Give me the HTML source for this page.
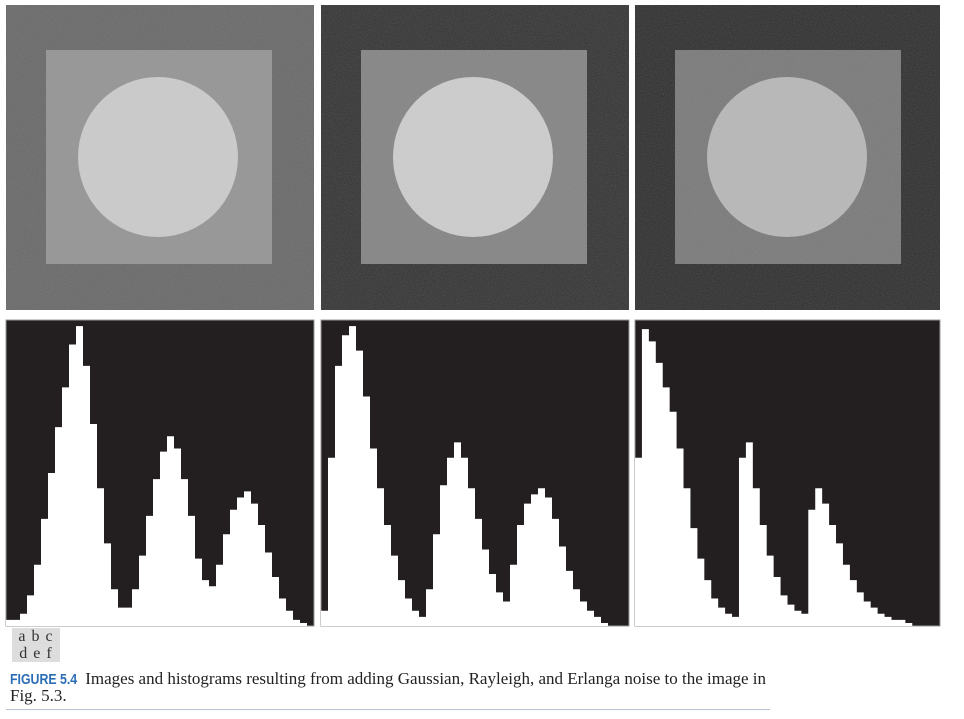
<!DOCTYPE html>
<html><head><meta charset="utf-8"><style>
body{margin:0;background:#fff;width:964px;height:719px;overflow:hidden;position:relative;font-family:"Liberation Serif",serif}
svg{position:absolute;left:0;top:0}
.lab{position:absolute;left:12px;top:628px;width:48px;background:#ddd;font-size:16px;line-height:17px;color:#333;text-align:center;letter-spacing:1px}
.cap{position:absolute;left:10px;top:671px;width:800px;font-size:17px;line-height:16px;color:#222;white-space:nowrap}
.fig{font-family:"Liberation Sans",sans-serif;font-weight:bold;color:#2a6db5;font-size:14.5px;display:inline-block;transform:scaleX(0.85);transform-origin:left;margin-right:-8px}
.rule{position:absolute;left:6px;top:709px;width:764px;height:1px;background:#b8c4d4}
</style></head><body>
<svg width="964" height="719">
<defs>
<filter id="noise" x="0" y="0" width="100%" height="100%">
<feTurbulence type="fractalNoise" baseFrequency="0.9" numOctaves="1" seed="3"/>
<feColorMatrix values="0 0 0 0 0.5  0 0 0 0 0.5  0 0 0 0 0.5  0 0 0 0.25 0"/>
<feComposite in2="SourceGraphic" operator="in"/>
</filter>
</defs>
<g id="images"></g>
<g id="hists"></g>
</svg>
<div class="lab">a b c<br>d e f</div>
<div class="cap"><span class="fig">FIGURE 5.4</span> Images and histograms resulting from adding Gaussian, Rayleigh, and Erlanga noise to the image in<br>Fig. 5.3.</div>
<div class="rule"></div>
<script>
const panelNames = ['gaussian','rayleigh','erlang'];
const outerGray = ['#666666','#303030','#2b2b2b'];
const squareGray = ['#939393','#828282','#777777'];
const circleGray = ['#cccccc','#cecece','#b8b8b8'];
const histGaussian = [0.02,0.02,0.04,0.1,0.2,0.35,0.5,0.65,0.78,0.92,0.98,0.85,0.66,0.45,0.27,0.12,0.06,0.06,0.12,0.23,0.36,0.48,0.57,0.62,0.58,0.48,0.36,0.22,0.15,0.13,0.2,0.3,0.38,0.42,0.44,0.4,0.33,0.24,0.16,0.09,0.05,0.02,0.01,0];
const histRayleigh = [0.05,0.55,0.85,0.95,0.98,0.9,0.75,0.58,0.45,0.33,0.23,0.15,0.09,0.05,0.03,0.12,0.3,0.46,0.55,0.6,0.55,0.45,0.35,0.25,0.17,0.11,0.08,0.2,0.33,0.4,0.43,0.45,0.42,0.35,0.26,0.18,0.12,0.08,0.05,0.03,0.01,0,0,0];
const histErlang = [0.55,0.97,0.93,0.86,0.78,0.7,0.58,0.45,0.32,0.22,0.15,0.09,0.06,0.04,0.03,0.55,0.6,0.45,0.33,0.23,0.16,0.1,0.07,0.05,0.04,0.38,0.45,0.4,0.33,0.27,0.2,0.15,0.11,0.08,0.06,0.04,0.03,0.02,0.02,0.01,0,0,0,0];
const hists = [histGaussian, histRayleigh, histErlang];
const NS='http://www.w3.org/2000/svg';
const panelX=[6,321,635], panelW=[308,308,305];
const imgTop=5, imgH=305, histTop=320, histH=306;
const imgG=document.getElementById('images'), histG=document.getElementById('hists');
function mk(t,a){const e=document.createElementNS(NS,t);for(const k in a)e.setAttribute(k,a[k]);return e;}
for(let p=0;p<3;p++){
  const x0=panelX[p], w=panelW[p];
  const g=mk('g',{});
  
  
  const r=mk('rect',{x:x0,y:imgTop,width:w,height:imgH,fill:outerGray[p]});
  
  
  g.appendChild(r);
  const sq=mk('rect',{x:x0+40,y:50,width:226,height:214,fill:squareGray[p]});
  
  
  g.appendChild(sq);
  const c=mk('circle',{cx:x0+152,cy:157,r:80,fill:circleGray[p]});
  
  
  g.appendChild(c);
  const n=mk('rect',{x:x0,y:imgTop,width:w,height:imgH,fill:'#fff',filter:'url(#noise)'});
  
  
  g.appendChild(n);
  imgG.appendChild(g);
  const hg=mk('g',{});
  
  
  const bg=mk('rect',{x:x0,y:histTop,width:w,height:histH,fill:'#231f20',stroke:'#999','stroke-width':1});
  
  
  hg.appendChild(bg);
  const data=hists[p], bw=w/data.length;
  const yS=v=>histTop+histH-v*histH;
  let d='M'+x0+','+(histTop+histH);
  data.forEach((v,i)=>{d+=' L'+(x0+i*bw)+','+yS(v)+' L'+(x0+(i+1)*bw)+','+yS(v);});
  d+=' L'+(x0+w)+','+(histTop+histH)+' Z';
  const path=mk('path',{d:d,fill:'#fff'});
  
  
  hg.appendChild(path);
  histG.appendChild(hg);
}
</script>
</body></html>
